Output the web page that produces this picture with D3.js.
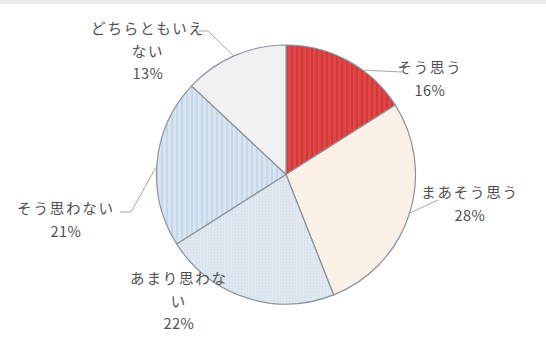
<!DOCTYPE html>
<html>
<head>
<meta charset="utf-8">
<script src="https://cdn.jsdelivr.net/npm/d3@7"></script>
<style>
  html, body { margin: 0; padding: 0; background: #fff; }
  svg { display: block; }
  text { font-family: "Noto Sans CJK JP", "Noto Sans", sans-serif; fill: #505050; }
</style>
</head>
<body>
<div id="chart"></div>
<script>
// data, clockwise from 12 o'clock
const categories = ['そう思う', 'まあそう思う', 'あまり思わない', 'そう思わない', 'どちらともいえない']
const values = [16, 28, 22, 21, 13]
// how each label wraps in the original
const labelLines = [
  ['そう思う'],
  ['まあそう思う'],
  ['あまり思わな', 'い'],
  ['そう思わない'],
  ['どちらともいえ', 'ない']
]

const W = 546, H = 338
const cx = 286, cy = 174.5, R = 129.5

/* label placement: centre x, first line y, leader angle on the rim, leader points near label */
const labelPos = [
  { x: 430, y: 68, ang: 37, pts: [[403, 72]] },
  { x: 470, y: 193, ang: 107, pts: [[438, 200]] },
  { x: 179, y: 279, ang: null, pts: [] },
  { x: 66, y: 209, ang: 273, pts: [[131, 212], [120, 212]] },
  { x: 148, y: 29, ang: 336, pts: [[208, 31], [199, 31]] }
]

const svg = d3.select('#chart').append('svg')
  .attr('width', W)
  .attr('height', H)

/* patterns */
const defs = svg.append('defs')
function stripes(id, a, b) {
  const p = defs.append('pattern')
    .attr('id', id)
    .attr('patternUnits', 'userSpaceOnUse')
    .attr('width', 5).attr('height', 5)
  p.append('rect').attr('width', 5).attr('height', 5).attr('fill', a)
  p.append('rect').attr('width', 2).attr('height', 5).attr('fill', b)
}
stripes('redStripe', '#e04646', '#d13838')
stripes('blueStripe', '#d9e4f1', '#c7d7ea')
const dots = defs.append('pattern')
  .attr('id', 'blueDots')
  .attr('patternUnits', 'userSpaceOnUse')
  .attr('width', 3).attr('height', 3)
dots.append('rect').attr('width', 3).attr('height', 3).attr('fill', '#dfe7f1')
dots.append('rect').attr('width', 1).attr('height', 1).attr('fill', '#cdd8e6')

const fills = ['url(#redStripe)', '#fbf0e5', 'url(#blueDots)', 'url(#blueStripe)', '#f1f1f1']

/* thin grey band along the top edge */
svg.append('rect')
  .attr('x', 0).attr('y', 0)
  .attr('width', W).attr('height', 4)
  .attr('fill', '#ececec')

const pie = d3.pie().sort(null)
const arcs = pie(values)
const arc = d3.arc().innerRadius(0).outerRadius(R)

const g = svg.append('g').attr('transform', `translate(${cx},${cy})`)
g.selectAll('path.slice')
  .data(arcs)
  .join('path')
  .attr('class', 'slice')
  .attr('d', arc)
  .attr('fill', (d, i) => fills[i])
  .attr('stroke', '#8a939d')
  .attr('stroke-width', 1.2)

/* leader lines */
const rim = a => {
  const t = a * Math.PI / 180
  return [cx + (R + 1) * Math.sin(t), cy - (R + 1) * Math.cos(t)]
}
labelPos.forEach(p => {
  if (p.ang == null) return
  svg.append('polyline')
    .attr('points', [rim(p.ang), ...p.pts].map(q => q.join(',')).join(' '))
    .attr('fill', 'none')
    .attr('stroke', '#a6a6a6')
    .attr('stroke-width', 1)
})

/* labels */
const lineH = 22.5
categories.forEach((c, i) => {
  const p = labelPos[i]
  const lines = labelLines[i].concat([values[i] + '%'])
  const t = svg.append('text')
    .attr('text-anchor', 'middle')
    .attr('font-size', 14.5)
  lines.forEach((s, j) => {
    t.append('tspan')
      .attr('x', p.x)
      .attr('y', p.y + j * lineH)
      .attr('dy', '0.35em')
      .attr('letter-spacing', j == lines.length - 1 ? 0.5 : 1.8)
      .text(s)
  })
})
</script>
</body>
</html>
